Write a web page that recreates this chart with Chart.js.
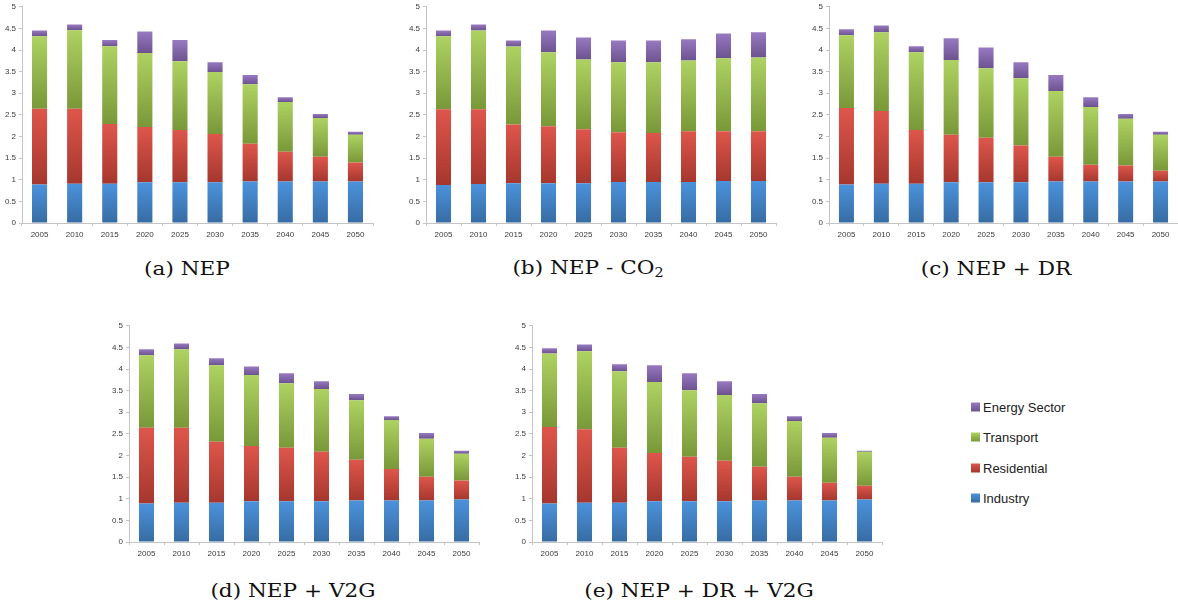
<!DOCTYPE html>
<html>
<head>
<meta charset="utf-8">
<script src="https://cdn.jsdelivr.net/npm/chart.js@4/dist/chart.umd.min.js"></script>
<style>
  body { margin: 0; background: #fff; width: 1178px; height: 608px; position: relative; overflow: hidden; }
  .panel { position: absolute; }
  .caption {
    position: absolute; white-space: nowrap;
    font-family: "DejaVu Serif", serif; font-size: 18px; color: #111;
    transform: translate(-50%, -50%) scaleX(1.2);
  }
  .caption sub { font-size: 12px; vertical-align: -3px; }
  .legend { position: absolute; left: 971px; top: 0; font-family: "Liberation Sans", Arial, sans-serif; font-size: 13px; color: #222; }
  .legend .row { position: absolute; left: 0; white-space: nowrap; display: flex; align-items: center; transform: translateY(-50%); }
  .legend .box { width: 9px; height: 9px; margin-right: 3px; }
</style>
</head>
<body>
<script>
// years on the x axis
const years = ['2005', '2010', '2015', '2020', '2025', '2030', '2035', '2040', '2045', '2050'];
const yTicks = [0, 0.5, 1, 1.5, 2, 2.5, 3, 3.5, 4, 4.5, 5];

const seriesNames = ['Industry', 'Residential', 'Transport', 'Energy Sector'];

// (a) NEP
const nepIndustry    = [0.89, 0.91, 0.91, 0.94, 0.94, 0.94, 0.96, 0.96, 0.96, 0.96];
const nepResidential = [1.75, 1.73, 1.38, 1.28, 1.21, 1.12, 0.87, 0.69, 0.57, 0.44];
const nepTransport   = [1.68, 1.82, 1.80, 1.71, 1.59, 1.43, 1.38, 1.15, 0.90, 0.64];
const nepEnergy      = [0.13, 0.13, 0.14, 0.50, 0.49, 0.23, 0.21, 0.11, 0.09, 0.07];

// (b) NEP - CO2
const co2Industry    = [0.88, 0.90, 0.92, 0.92, 0.92, 0.95, 0.95, 0.95, 0.97, 0.97];
const co2Residential = [1.75, 1.73, 1.36, 1.32, 1.25, 1.15, 1.13, 1.17, 1.15, 1.15];
const co2Transport   = [1.69, 1.82, 1.80, 1.71, 1.61, 1.62, 1.64, 1.64, 1.69, 1.71];
const co2Energy      = [0.13, 0.14, 0.14, 0.50, 0.51, 0.50, 0.50, 0.49, 0.57, 0.58];

// (c) NEP + DR
const drIndustry    = [0.89, 0.91, 0.91, 0.94, 0.94, 0.94, 0.96, 0.96, 0.96, 0.96];
const drResidential = [1.77, 1.68, 1.24, 1.10, 1.03, 0.85, 0.57, 0.39, 0.37, 0.25];
const drTransport   = [1.68, 1.82, 1.80, 1.73, 1.61, 1.56, 1.52, 1.33, 1.08, 0.83];
const drEnergy      = [0.14, 0.16, 0.14, 0.50, 0.48, 0.37, 0.37, 0.23, 0.11, 0.07];

// (d) NEP + V2G
const v2gIndustry    = [0.89, 0.91, 0.91, 0.94, 0.94, 0.94, 0.96, 0.96, 0.96, 0.98];
const v2gResidential = [1.75, 1.73, 1.41, 1.28, 1.24, 1.15, 0.94, 0.73, 0.55, 0.44];
const v2gTransport   = [1.68, 1.82, 1.77, 1.64, 1.49, 1.45, 1.38, 1.13, 0.88, 0.62];
const v2gEnergy      = [0.14, 0.13, 0.16, 0.20, 0.23, 0.18, 0.14, 0.09, 0.13, 0.07];

// (e) NEP + DR + V2G
const bothIndustry    = [0.89, 0.91, 0.91, 0.94, 0.94, 0.94, 0.96, 0.96, 0.96, 0.98];
const bothResidential = [1.77, 1.70, 1.27, 1.12, 1.03, 0.94, 0.78, 0.55, 0.41, 0.32];
const bothTransport   = [1.70, 1.80, 1.77, 1.64, 1.54, 1.52, 1.47, 1.29, 1.04, 0.79];
const bothEnergy      = [0.12, 0.16, 0.16, 0.39, 0.39, 0.32, 0.21, 0.11, 0.11, 0.02];

// light (top) and dark (bottom) shade of each series
const shades = [
  ['#4b92dc', '#376ca3'],
  ['#de564b', '#a5372e'],
  ['#aed262', '#799839'],
  ['#9779c1', '#6c538f']
];

const panels = [
  { caption: '(a) NEP', cx: 187, cy: 268, plot: [22, 5, 373, 223],
    data: [nepIndustry, nepResidential, nepTransport, nepEnergy] },
  { caption: '(b) NEP - CO<sub>2</sub>', cx: 588, cy: 268, plot: [426, 5, 776, 223],
    data: [co2Industry, co2Residential, co2Transport, co2Energy] },
  { caption: '(c) NEP + DR', cx: 996, cy: 268, plot: [829, 5, 1178, 223],
    data: [drIndustry, drResidential, drTransport, drEnergy] },
  { caption: '(d) NEP + V2G', cx: 293, cy: 590, plot: [129, 324, 479, 542],
    data: [v2gIndustry, v2gResidential, v2gTransport, v2gEnergy] },
  { caption: '(e) NEP + DR + V2G', cx: 699, cy: 590, plot: [532, 324, 882, 542],
    data: [bothIndustry, bothResidential, bothTransport, bothEnergy] }
];

const Y_W = 22, X_H = 20, PAD_T = 6, PAD_R = 4;

function segmentFill(series) {
  return function(ctx) {
    const chart = ctx.chart;
    if (!chart.chartArea || ctx.dataIndex === undefined) return shades[series][0];
    const sets = chart.data.datasets;
    let base = 0;
    for (let k = 0; k < ctx.datasetIndex; k++) base += sets[k].data[ctx.dataIndex];
    const v = sets[ctx.datasetIndex].data[ctx.dataIndex];
    const y = chart.scales.y;
    const g = chart.ctx.createLinearGradient(0, y.getPixelForValue(base + v), 0, y.getPixelForValue(base));
    g.addColorStop(0, shades[series][0]);
    g.addColorStop(1, shades[series][1]);
    return g;
  };
}

panels.forEach(function(p) {
  const [l, t, r, b] = p.plot;
  const wrap = document.createElement('div');
  wrap.className = 'panel';
  const w = r - l + Y_W + PAD_R, h = b - t + PAD_T + X_H;
  wrap.style.left = (l - Y_W) + 'px';
  wrap.style.top = (t - PAD_T) + 'px';
  wrap.style.width = w + 'px';
  wrap.style.height = h + 'px';
  const canvas = document.createElement('canvas');
  wrap.appendChild(canvas);
  document.body.appendChild(wrap);

  const cap = document.createElement('div');
  cap.className = 'caption';
  cap.innerHTML = p.caption;
  cap.style.left = p.cx + 'px';
  cap.style.top = p.cy + 'px';
  document.body.appendChild(cap);

  new Chart(canvas, {
    type: 'bar',
    data: {
      labels: years,
      datasets: p.data.map(function(vals, i) {
        return {
          label: seriesNames[i],
          data: vals,
          backgroundColor: segmentFill(i),
          borderWidth: 0,
          barPercentage: 0.43,
          categoryPercentage: 1
        };
      })
    },
    options: {
      responsive: true,
      maintainAspectRatio: false,
      animation: false,
      events: [],
      layout: { padding: { top: PAD_T, right: PAD_R, left: 0, bottom: 0 } },
      plugins: { legend: { display: false }, tooltip: { enabled: false } },
      scales: {
        x: {
          stacked: true,
          afterFit: function(s) { s.height = X_H; },
          grid: { drawOnChartArea: false, tickLength: 3, color: '#c4c4c4' },
          border: { color: '#c4c4c4' },
          ticks: { color: '#3a3a3a', font: { family: 'Liberation Sans', size: 8 }, padding: 4, maxRotation: 0 }
        },
        y: {
          stacked: true,
          min: 0, max: 5,
          afterFit: function(s) { s.width = Y_W; },
          afterBuildTicks: function(s) { s.ticks = yTicks.map(function(v) { return { value: v }; }); },
          grid: { drawOnChartArea: false, tickLength: 3, color: '#c4c4c4' },
          border: { color: '#c4c4c4' },
          ticks: {
            color: '#3a3a3a', font: { family: 'Liberation Sans', size: 8 }, padding: 3,
            callback: function(v) { return String(v); }
          }
        }
      }
    }
  });
});

// separate legend, top entry first
const legend = document.createElement('div');
legend.className = 'legend';
const rowY = [407, 437, 468, 498];
[3, 2, 1, 0].forEach(function(s, i) {
  const row = document.createElement('div');
  row.className = 'row';
  row.style.top = rowY[i] + 'px';
  row.innerHTML = '<span class="box" style="background:linear-gradient(' + shades[s][0] + ',' + shades[s][1] + ')"></span>' + seriesNames[s];
  legend.appendChild(row);
});
document.body.appendChild(legend);
</script>
</body>
</html>
